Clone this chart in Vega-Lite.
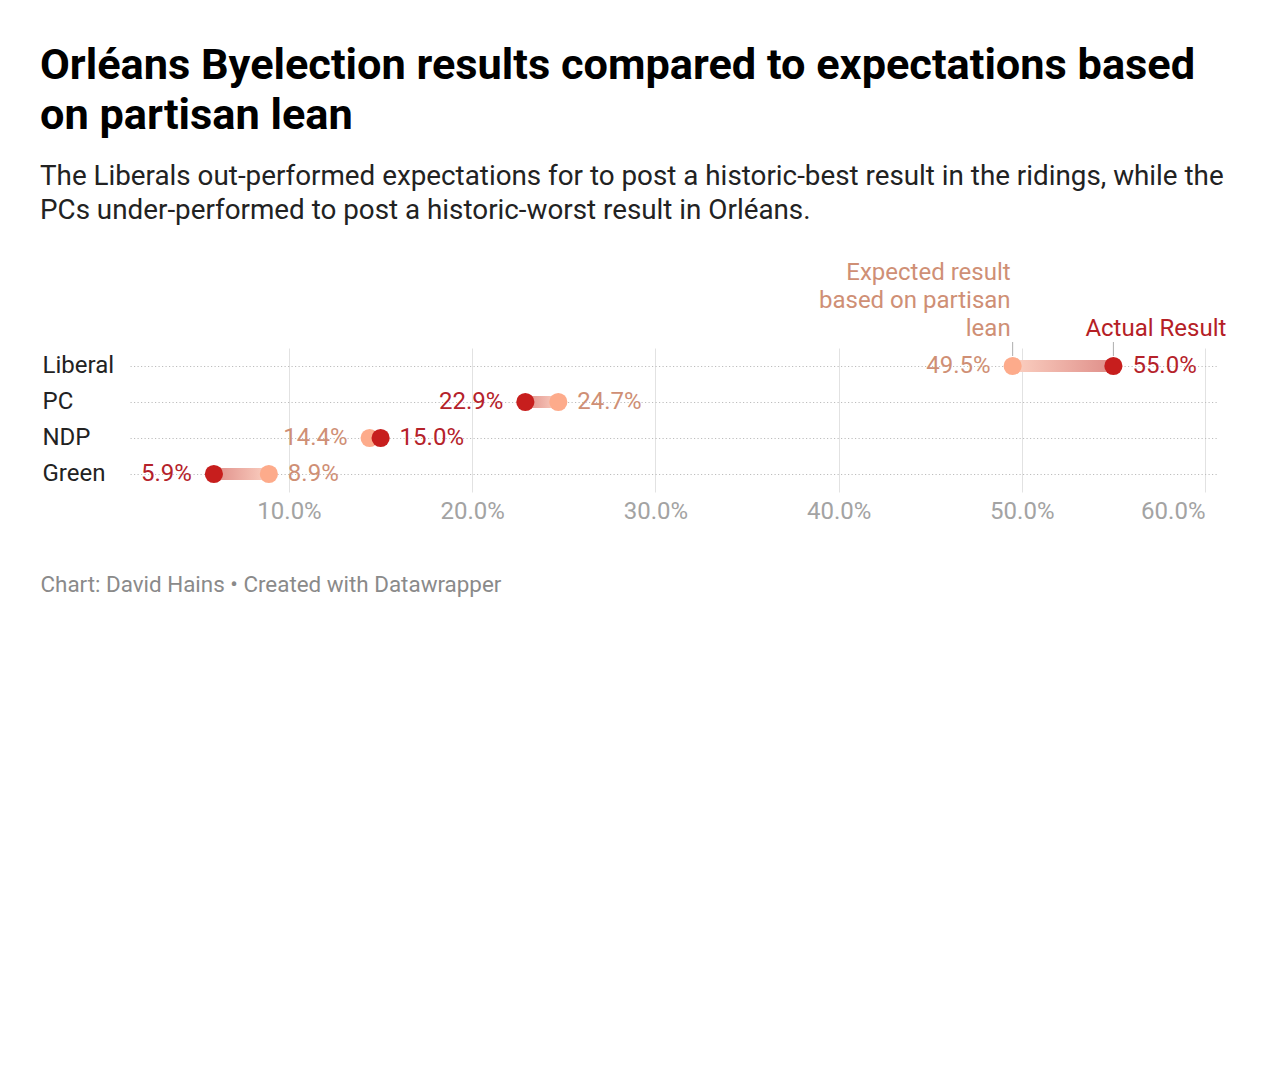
{
  "$schema": "https://vega.github.io/schema/vega-lite/v6.json",
  "width": 1088,
  "height": 144,
  "autosize": {"type": "none"},
  "padding": {"left": 130, "top": 348, "right": 62, "bottom": 588},
  "background": "white",
  "config": {"font": "Roboto", "view": {"stroke": null}},
  "title": {
    "text": ["Orléans Byelection results compared to expectations based", "on partisan lean"],
    "subtitle": ["The Liberals out-performed expectations for to post a historic-best result in the ridings, while the", "PCs under-performed to post a historic-worst result in Orléans."],
    "anchor": "start",
    "frame": "group",
    "dx": -90,
    "font": "Roboto",
    "fontSize": 43.3,
    "fontWeight": "bold",
    "color": "#000000",
    "lineHeight": 50,
    "subtitleFont": "Roboto",
    "subtitleFontSize": 27.8,
    "subtitleColor": "#222222",
    "subtitleLineHeight": 34,
    "subtitlePadding": 25,
    "offset": 35
  },
  "datasets": {
    "results": [
      {"party": "Liberal", "expected": 0.495, "actual": 0.55},
      {"party": "PC", "expected": 0.247, "actual": 0.229},
      {"party": "NDP", "expected": 0.144, "actual": 0.15},
      {"party": "Green", "expected": 0.089, "actual": 0.059}
    ],
    "notes": [
      {"party": "Liberal", "value": 0.495, "kind": "expected", "label": "Expected result\nbased on partisan\nlean"},
      {"party": "Liberal", "value": 0.55, "kind": "actual", "label": "Actual Result"}
    ]
  },
  "data": {"name": "results"},
  "encoding": {
    "y": {
      "field": "party",
      "type": "nominal",
      "sort": ["Liberal", "PC", "NDP", "Green"],
      "scale": {"paddingInner": 0, "paddingOuter": 0},
      "axis": {
        "title": null,
        "domain": false,
        "ticks": false,
        "labelAlign": "left",
        "labelPadding": 88,
        "labelFontSize": 24,
        "labelColor": "#222222",
        "labelFont": "Roboto",
        "grid": true,
        "bandPosition": 0.5,
        "gridColor": "#bdbdbd",
        "gridDash": [1.2, 2.3],
        "gridWidth": 1
      }
    }
  },
  "layer": [
    {
      "transform": [{"filter": "datum.actual > datum.expected"}],
      "mark": {
        "type": "bar",
        "height": 12,
        "fill": {"gradient": "linear", "x1": 0, "x2": 1, "y1": 0, "y2": 0, "stops": [{"offset": 0, "color": "#fbd0c1"}, {"offset": 1, "color": "#df8e89"}]}
      },
      "encoding": {
        "x": {
          "field": "expected",
          "type": "quantitative",
          "scale": {"domain": [0.0132, 0.6071], "nice": false, "zero": false},
          "axis": {
            "values": [0.1, 0.2, 0.3, 0.4, 0.5, 0.6],
            "format": ".1%",
            "labelFont": "Roboto",
            "labelFontSize": 24,
            "labelColor": "#a3a3a3",
            "labelPadding": 7,
            "labelAlign": {"condition": {"test": "datum.value >= 0.6", "value": "right"}, "value": "center"},
            "ticks": false,
            "domain": false,
            "grid": true,
            "gridColor": "#e2e2e2",
            "gridWidth": 1,
            "title": "Chart: David Hains • Created with Datawrapper",
            "titleFont": "Roboto",
            "titleFontSize": 22.4,
            "titleFontWeight": "normal",
            "titleColor": "#8a8a8a",
            "titleAnchor": "start",
            "titleAlign": "left",
            "titleBaseline": "alphabetic",
            "titleX": -90,
            "titleY": 99
          }
        },
        "x2": {"field": "actual"}
      }
    },
    {
      "transform": [{"filter": "datum.actual < datum.expected"}],
      "mark": {
        "type": "bar",
        "height": 12,
        "fill": {"gradient": "linear", "x1": 0, "x2": 1, "y1": 0, "y2": 0, "stops": [{"offset": 0, "color": "#df8e89"}, {"offset": 1, "color": "#fbd0c1"}]}
      },
      "encoding": {
        "x": {"field": "actual", "type": "quantitative"},
        "x2": {"field": "expected"}
      }
    },
    {
      "data": {"name": "notes"},
      "mark": {"type": "tick", "orient": "vertical", "size": 14, "thickness": 1, "color": "#8c8c8c", "yOffset": -17},
      "encoding": {
        "x": {"field": "value", "type": "quantitative"}
      }
    },
    {
      "data": {"name": "notes"},
      "transform": [{"filter": "datum.kind == 'expected'"}],
      "mark": {"type": "text", "align": "right", "baseline": "alphabetic", "dx": -2, "dy": -86, "lineBreak": "\n", "lineHeight": 28, "fontSize": 24, "font": "Roboto", "color": "#cf8f75"},
      "encoding": {
        "x": {"field": "value", "type": "quantitative"},
        "text": {"field": "label"}
      }
    },
    {
      "data": {"name": "notes"},
      "transform": [{"filter": "datum.kind == 'actual'"}],
      "mark": {"type": "text", "align": "left", "baseline": "alphabetic", "dx": -28, "dy": -30, "fontSize": 24, "font": "Roboto", "color": "#b52025"},
      "encoding": {
        "x": {"field": "value", "type": "quantitative"},
        "text": {"field": "label"}
      }
    },
    {
      "transform": [{"fold": ["expected", "actual"], "as": ["key", "value"]}],
      "mark": {"type": "circle", "size": 330, "opacity": 1},
      "encoding": {
        "x": {"field": "value", "type": "quantitative"},
        "color": {"condition": {"test": "datum.key == 'actual'", "value": "#c71e1d"}, "value": "#fdab8b"}
      }
    },
    {
      "transform": [
        {"fold": ["expected", "actual"], "as": ["key", "value"]},
        {"joinaggregate": [{"op": "min", "field": "value", "as": "minv"}], "groupby": ["party"]},
        {"filter": "datum.value == datum.minv"}
      ],
      "mark": {"type": "text", "align": "right", "baseline": "middle", "dx": -22, "fontSize": 24, "font": "Roboto"},
      "encoding": {
        "x": {"field": "value", "type": "quantitative"},
        "text": {"field": "value", "type": "quantitative", "format": ".1%"},
        "color": {"condition": {"test": "datum.key == 'actual'", "value": "#b5222a"}, "value": "#cf8f75"}
      }
    },
    {
      "transform": [
        {"fold": ["expected", "actual"], "as": ["key", "value"]},
        {"joinaggregate": [{"op": "min", "field": "value", "as": "minv"}], "groupby": ["party"]},
        {"filter": "datum.value != datum.minv"}
      ],
      "mark": {"type": "text", "align": "left", "baseline": "middle", "dx": 19, "fontSize": 24, "font": "Roboto"},
      "encoding": {
        "x": {"field": "value", "type": "quantitative"},
        "text": {"field": "value", "type": "quantitative", "format": ".1%"},
        "color": {"condition": {"test": "datum.key == 'actual'", "value": "#b5222a"}, "value": "#cf8f75"}
      }
    }
  ]
}
